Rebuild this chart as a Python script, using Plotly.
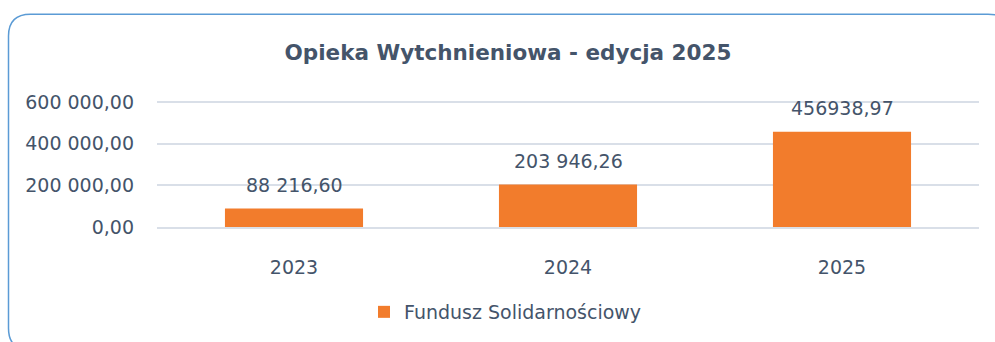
import plotly.graph_objects as go

# Fundusz Solidarnościowy – Opieka Wytchnieniowa, kwoty wg edycji
years = ["2023", "2024", "2025"]
amounts = [88216.60, 203946.26, 456938.97]
amount_labels = ["88 216,60", "203 946,26", "456938,97"]
y_ticks = [0, 200000, 400000, 600000]
y_tick_labels = ["0,00", "200 000,00", "400 000,00", "600 000,00"]

W, H = 995, 342
ML, MR, MT, MB = 157, 16, 98, 114
PW, PH = W - ML - MR, H - MT - MB
# leave a few pixels above the 600 000 gridline so it is drawn
Y_MAX = 600000 * PH / 126

TEXT = "#44546A"
GRID = "#D9DFE8"
FONT = "DejaVu Sans"


def px(x):
    return (x - ML) / PW


def py(y):
    return (H - MB - y) / PH


fig = go.Figure()
fig.add_trace(go.Bar(
    x=years,
    y=amounts,
    name="Fundusz Solidarnościowy",
    marker=dict(color="#F27C2C", line=dict(width=0)),
    hoverinfo="x+y",
))

# value labels above the bars (category axis: position by index)
for i, (val, lab) in enumerate(zip(amounts, amount_labels)):
    fig.add_annotation(
        x=i, y=val, xref="x", yref="y", text=lab, showarrow=False,
        yanchor="middle", yshift=24,
        font=dict(family=FONT, size=19, color=TEXT),
    )

# rounded frame around the chart
r = 22
x0, y0, x1, y1 = 8.5, 13.5, 1010, 352
path = (
    f"M {px(x0)},{py(y1 - r)} "
    f"L {px(x0)},{py(y0 + r)} "
    f"Q {px(x0)},{py(y0)} {px(x0 + r)},{py(y0)} "
    f"L {px(x1 - r)},{py(y0)} "
    f"Q {px(x1)},{py(y0)} {px(x1)},{py(y0 + r)} "
    f"L {px(x1)},{py(y1 - r)} "
    f"Q {px(x1)},{py(y1)} {px(x1 - r)},{py(y1)} "
    f"L {px(x0 + r)},{py(y1)} "
    f"Q {px(x0)},{py(y1)} {px(x0)},{py(y1 - r)} Z"
)
fig.add_shape(type="path", path=path, xref="paper", yref="paper",
              line=dict(color="#5B9BD5", width=1.5), layer="below")

fig.update_layout(
    width=W, height=H,
    margin=dict(l=ML, r=MR, t=MT, b=MB),
    paper_bgcolor="white", plot_bgcolor="white",
    title=dict(
        text="<b>Opieka Wytchnieniowa - edycja 2025</b>",
        x=px(508), xref="paper", xanchor="center",
        y=1 - 52 / H, yanchor="middle",
        font=dict(family=FONT, size=21.5, color=TEXT),
    ),
    bargap=0.496,
    showlegend=True,
    legend=dict(
        orientation="h", x=px(364), xanchor="left",
        y=py(312), yanchor="middle",
        font=dict(family=FONT, size=19, color=TEXT),
    ),
    xaxis=dict(
        type="category", range=[-0.5, 2.5],
        showgrid=False, showline=True, linecolor=GRID, linewidth=1.5,
        ticks="", ticklabelstandoff=22,
        tickfont=dict(family=FONT, size=19, color=TEXT),
    ),
    yaxis=dict(
        range=[0, Y_MAX], tickvals=y_ticks, ticktext=y_tick_labels,
        showgrid=True, gridcolor=GRID, gridwidth=1.5, zeroline=False,
        showline=False, ticks="", ticklabelstandoff=22,
        tickfont=dict(family=FONT, size=19, color=TEXT),
    ),
)

fig.write_html("out.html")
